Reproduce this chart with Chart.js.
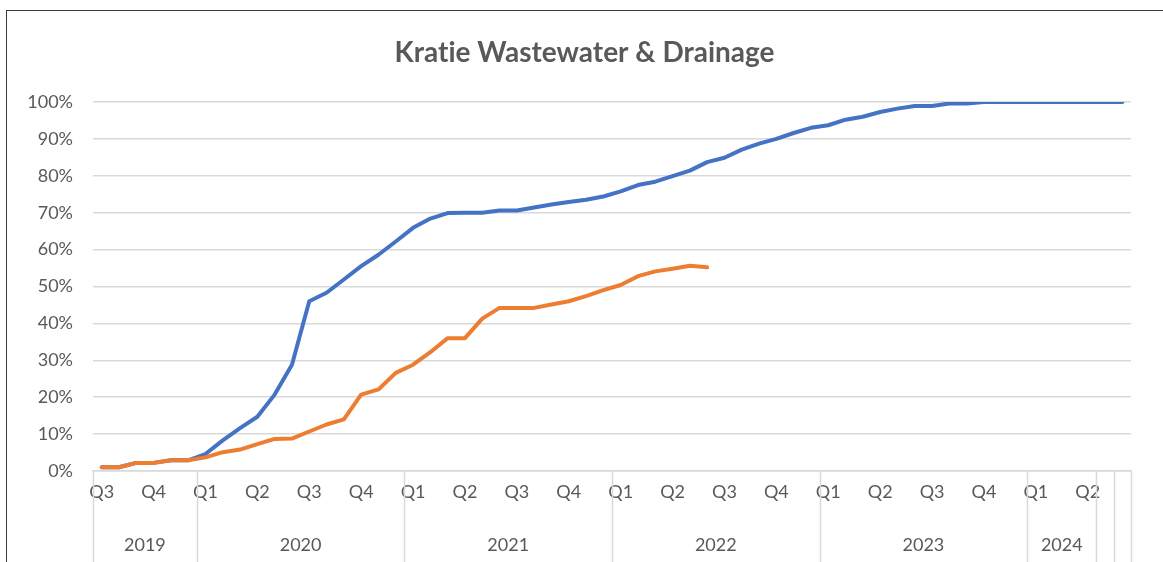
<!DOCTYPE html>
<html>
<head>
<meta charset="utf-8">
<title>Kratie Wastewater & Drainage</title>
<script src="https://cdn.jsdelivr.net/npm/chart.js@4.4.1/dist/chart.umd.min.js"></script>
<style>
  html, body { margin: 0; padding: 0; background: #fff; overflow: hidden; }
  #frame { position: absolute; left: 6px; top: 10px; width: 1200px; height: 600px; border: 1px solid #3a3a3a; }
  #chart { position: absolute; left: 0; top: 0; }
</style>
</head>
<body>
<div id="frame"></div>
<canvas id="chart" width="1163" height="562"></canvas>
<script>
// monthly categories, Jul 2019 .. Apr 2024, plus two empty slots at the end
const categories = [
  '2019-07', '2019-08', '2019-09', '2019-10', '2019-11', '2019-12',
  '2020-01', '2020-02', '2020-03', '2020-04', '2020-05', '2020-06',
  '2020-07', '2020-08', '2020-09', '2020-10', '2020-11', '2020-12',
  '2021-01', '2021-02', '2021-03', '2021-04', '2021-05', '2021-06',
  '2021-07', '2021-08', '2021-09', '2021-10', '2021-11', '2021-12',
  '2022-01', '2022-02', '2022-03', '2022-04', '2022-05', '2022-06',
  '2022-07', '2022-08', '2022-09', '2022-10', '2022-11', '2022-12',
  '2023-01', '2023-02', '2023-03', '2023-04', '2023-05', '2023-06',
  '2023-07', '2023-08', '2023-09', '2023-10', '2023-11', '2023-12',
  '2024-01', '2024-02', '2024-03', '2024-04', '', ' '
];

// year groups on the lower axis row: label + first category index
const yearLabels = ['2019', '2020', '2021', '2022', '2023', '2024', '', ''];
const yearStarts = [0, 6, 18, 30, 42, 54, 58, 59];

const quarterOfMonth = { '01': 'Q1', '04': 'Q2', '07': 'Q3', '10': 'Q4' };

const yTicks = [0, 10, 20, 30, 40, 50, 60, 70, 80, 90, 100];

// progress in %
const plannedSeries = [
  1.0, 1.0, 2.2, 2.2, 2.9, 2.9,
  4.6, 8.3, 11.6, 14.7, 20.7, 28.8,
  46.0, 48.3, 51.9, 55.5, 58.6, 62.2,
  65.9, 68.4, 69.9, 70.0, 70.0, 70.6,
  70.6, 71.4, 72.2, 72.9, 73.5, 74.4,
  75.8, 77.5, 78.4, 79.9, 81.4, 83.7,
  84.9, 87.1, 88.7, 90.0, 91.6, 93.0,
  93.7, 95.2, 96.0, 97.3, 98.2, 98.9,
  98.9, 99.6, 99.6, 100, 100, 100,
  100, 100, 100, 100, 100, 100
];

const actualSeries = [
  1.0, 1.0, 2.2, 2.2, 2.9, 2.9,
  3.7, 5.1, 5.8, 7.3, 8.7, 8.8,
  10.7, 12.6, 14.0, 20.7, 22.1, 26.6,
  28.8, 32.2, 36.0, 36.0, 41.3, 44.2,
  44.2, 44.2, 45.1, 46.0, 47.4, 49.0,
  50.4, 52.8, 54.1, 54.8, 55.6, 55.2
];

// zero-width non-joiner keeps Lato from forming the "ti" ligature
const chartTitle = 'Krat\u200Cie Wastewater & Drainage';

const FONT = 'Lato, Carlito, Calibri, sans-serif';
const TEXT = '#595959';
const GRID = '#D9D9D9';

// title centred on the whole frame (not the plot), year row and group separators
const groupAxis = {
  id: 'groupAxis',
  afterDraw(chart) {
    const xs = chart.scales.x;
    const ctx = chart.ctx;
    const top = chart.chartArea.bottom;
    const bounds = yearStarts.concat([categories.length]);
    ctx.save();

    ctx.fillStyle = TEXT;
    ctx.font = 'bold 28px ' + FONT;
    ctx.textAlign = 'center';
    ctx.textBaseline = 'middle';
    ctx.fillText(chartTitle, chart.width / 2 + 3, 53);

    ctx.strokeStyle = GRID;
    ctx.lineWidth = 1.5;
    bounds.forEach(b => {
      const x = Math.round(xs.getPixelForValue(b - 0.5)) + 0.5;
      ctx.beginPath();
      ctx.moveTo(x, top);
      ctx.lineTo(x, 562);
      ctx.stroke();
    });

    ctx.font = '18px ' + FONT;
    yearLabels.forEach((lab, i) => {
      if (!lab) return;
      const x0 = xs.getPixelForValue(bounds[i] - 0.5);
      const x1 = xs.getPixelForValue(bounds[i + 1] - 0.5);
      ctx.fillText(lab, (x0 + x1) / 2, 545);
    });
    ctx.restore();
  }
};

new Chart(document.getElementById('chart'), {
  type: 'line',
  data: {
    labels: categories,
    datasets: [
      {
        label: 'Planned',
        data: plannedSeries,
        borderColor: '#4472C4',
        backgroundColor: '#4472C4',
        borderWidth: 4,
        pointRadius: 0,
        borderCapStyle: 'round',
        borderJoinStyle: 'round',
        order: 2
      },
      {
        label: 'Actual',
        data: actualSeries,
        borderColor: '#ED7D31',
        backgroundColor: '#ED7D31',
        borderWidth: 4,
        pointRadius: 0,
        borderCapStyle: 'round',
        borderJoinStyle: 'round',
        order: 1
      }
    ]
  },
  options: {
    responsive: false,
    animation: false,
    layout: { padding: { left: 0, right: 32, top: 102, bottom: 0 } },
    plugins: {
      legend: { display: false },
      tooltip: { enabled: false },
      title: { display: false }
    },
    scales: {
      x: {
        offset: true,
        grid: { display: false },
        border: { display: true, color: GRID, width: 1.5 },
        ticks: {
          autoSkip: false,
          maxRotation: 0,
          color: TEXT,
          font: { family: FONT, size: 18 },
          padding: 2,
          callback: (v, i) => quarterOfMonth[categories[i].slice(5)] || ''
        },
        afterFit: s => { s.height = 91; }
      },
      y: {
        min: 0,
        max: 100,
        afterBuildTicks: s => { s.ticks = yTicks.map(v => ({ value: v })); },
        grid: { color: GRID, lineWidth: 1.5, drawTicks: false },
        border: { display: false },
        ticks: {
          color: TEXT,
          font: { family: FONT, size: 18 },
          padding: 20,
          callback: v => v + '%'
        },
        afterFit: s => { s.width = 93; }
      }
    }
  },
  plugins: [groupAxis]
});
</script>
</body>
</html>
